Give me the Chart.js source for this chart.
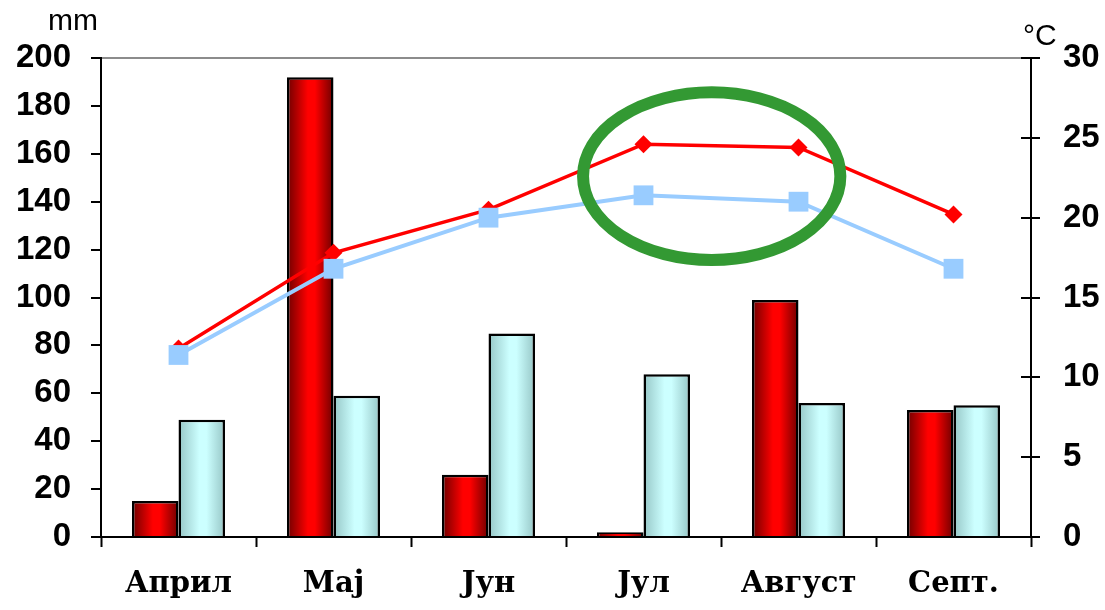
<!DOCTYPE html>
<html>
<head>
<meta charset="utf-8">
<script src="https://cdn.jsdelivr.net/npm/chart.js@4.4.1/dist/chart.umd.min.js"></script>
<style>
html,body{margin:0;padding:0;background:#fff;}
#wrap{width:1105px;height:610px;position:relative;}
</style>
</head>
<body>
<div id="wrap"><canvas id="c" width="1105" height="610"></canvas></div>
<script>
// ---- data ----
const categories = ['Април', 'Мај', 'Јун', 'Јул', 'Август', 'Септ.'];
const precipA = [15, 192, 26, 2, 99, 53];     // red bars (mm)
const precipB = [49, 59, 85, 68, 56, 55];     // cyan bars (mm)
const tempA = [11.8, 17.8, 20.5, 24.6, 24.4, 20.2]; // red line (°C)
const tempB = [11.4, 16.8, 20.0, 21.4, 21.0, 16.8]; // blue line (°C)
const leftTicks = [0, 20, 40, 60, 80, 100, 120, 140, 160, 180, 200];
const rightTicks = [0, 5, 10, 15, 20, 25, 30];
const leftUnit = 'mm';
const rightUnit = '°C';
// highlighted region (category index, temperature) and its half extents
const highlight = { x: 3.44, y: 22.6, dx: 0.83, dy: 5.25 };

const CAT_PCT = 0.6;

function barGradient(ctx, side, stops) {
  const chart = ctx.chart;
  const xs = chart.scales.x;
  if (!xs || !chart.chartArea) return stops[2];
  const c = xs.getPixelForValue(ctx.dataIndex);
  const w = (xs.width / categories.length) * CAT_PCT / 2;
  const x0 = side < 0 ? c - w : c;
  const g = chart.ctx.createLinearGradient(x0, 0, x0 + w, 0);
  g.addColorStop(0, stops[0]);
  g.addColorStop(0.45, stops[1]);
  g.addColorStop(0.6, stops[1]);
  g.addColorStop(1, stops[0]);
  return g;
}

const extras = {
  id: 'extras',
  afterDraw(chart) {
    const ctx = chart.ctx;
    const a = chart.chartArea;
    const xs = chart.scales.x, y2 = chart.scales.y2;
    ctx.save();
    // crossing ticks on the right axis
    ctx.strokeStyle = '#000';
    ctx.lineWidth = 2;
    rightTicks.forEach(v => {
      const py = Math.round(y2.getPixelForValue(v));
      ctx.beginPath();
      ctx.moveTo(a.right - 10, py);
      ctx.lineTo(a.right + 9, py);
      ctx.stroke();
    });
    // unit labels
    ctx.fillStyle = '#000';
    ctx.font = '30px "Liberation Sans", Arial, sans-serif';
    ctx.textBaseline = 'alphabetic';
    ctx.textAlign = 'right';
    ctx.fillText(leftUnit, a.left - 3, 30);
    ctx.textAlign = 'left';
    ctx.fillText(rightUnit, a.right - 8, 45);
    // green highlight ellipse
    const cx = xs.getPixelForValue(highlight.x);
    const cy = y2.getPixelForValue(highlight.y);
    const rx = xs.getPixelForValue(highlight.x + highlight.dx) - cx;
    const ry = cy - y2.getPixelForValue(highlight.y + highlight.dy);
    ctx.strokeStyle = '#339933';
    ctx.lineWidth = 12;
    ctx.beginPath();
    ctx.ellipse(cx, cy, rx, ry, 0, 0, Math.PI * 2);
    ctx.stroke();
    ctx.restore();
  }
};

new Chart(document.getElementById('c'), {
  data: {
    labels: categories,
    datasets: [
      {
        type: 'line', yAxisID: 'y2', data: tempB, order: 0,
        borderColor: '#99ccff', backgroundColor: '#99ccff', borderWidth: 4,
        pointStyle: 'rect', pointRadius: 14, pointBorderWidth: 0,
        pointBackgroundColor: '#99ccff', tension: 0
      },
      {
        type: 'line', yAxisID: 'y2', data: tempA, order: 1,
        borderColor: '#ff0000', backgroundColor: '#ff0000', borderWidth: 3.5,
        pointStyle: 'rectRot', pointRadius: 9, pointBorderWidth: 0,
        pointBackgroundColor: '#ff0000', tension: 0
      },
      {
        type: 'bar', yAxisID: 'y', data: precipA, order: 2,
        backgroundColor: ctx => barGradient(ctx, -1, ['#6e0000', '#ff0000', '#ff0000']),
        borderColor: '#000', borderWidth: 2.5,
        categoryPercentage: CAT_PCT, barPercentage: 1.0
      },
      {
        type: 'bar', yAxisID: 'y', data: precipB, order: 3,
        backgroundColor: ctx => barGradient(ctx, 1, ['#96c6c6', '#ccffff', '#ccffff']),
        borderColor: '#000', borderWidth: 2.5,
        categoryPercentage: CAT_PCT, barPercentage: 1.0
      }
    ]
  },
  options: {
    responsive: false,
    animation: false,
    events: [],
    layout: { padding: { top: 58, left: 0, right: 0, bottom: 0 } },
    plugins: { legend: { display: false }, tooltip: { enabled: false }, title: { display: false } },
    scales: {
      x: {
        offset: true,
        grid: { offset: true, drawOnChartArea: false, tickLength: 10, tickColor: '#000', tickWidth: 2, color: '#000' },
        border: { display: true, color: '#000', width: 2 },
        ticks: { color: '#000', padding: 20, font: { family: '"DejaVu Serif", serif', weight: 'bold', size: 29 } },
        afterFit: s => { s.height = 73; }
      },
      y: {
        position: 'left', min: 0, max: 200,
        afterBuildTicks: s => { s.ticks = leftTicks.map(v => ({ value: v })); },
        grid: {
          drawOnChartArea: true, tickLength: 10, tickColor: '#000', tickWidth: 2, lineWidth: 2,
          color: c => (c.tick && c.tick.value === 200) ? '#8c8c8c' : 'rgba(0,0,0,0)'
        },
        border: { display: true, color: '#000', width: 2 },
        ticks: { color: '#000', padding: 20, font: { family: '"Liberation Sans", Arial, sans-serif', weight: 'bold', size: 33 } },
        afterFit: s => { s.width = 101; }
      },
      y2: {
        position: 'right', min: 0, max: 30,
        afterBuildTicks: s => { s.ticks = rightTicks.map(v => ({ value: v })); },
        grid: { display: true, drawOnChartArea: false, drawTicks: false },
        border: { display: true, color: '#000', width: 2 },
        ticks: { color: '#000', padding: 32, font: { family: '"Liberation Sans", Arial, sans-serif', weight: 'bold', size: 33 } },
        afterFit: s => { s.width = 74; }
      }
    }
  },
  plugins: [extras]
});
</script>
</body>
</html>
